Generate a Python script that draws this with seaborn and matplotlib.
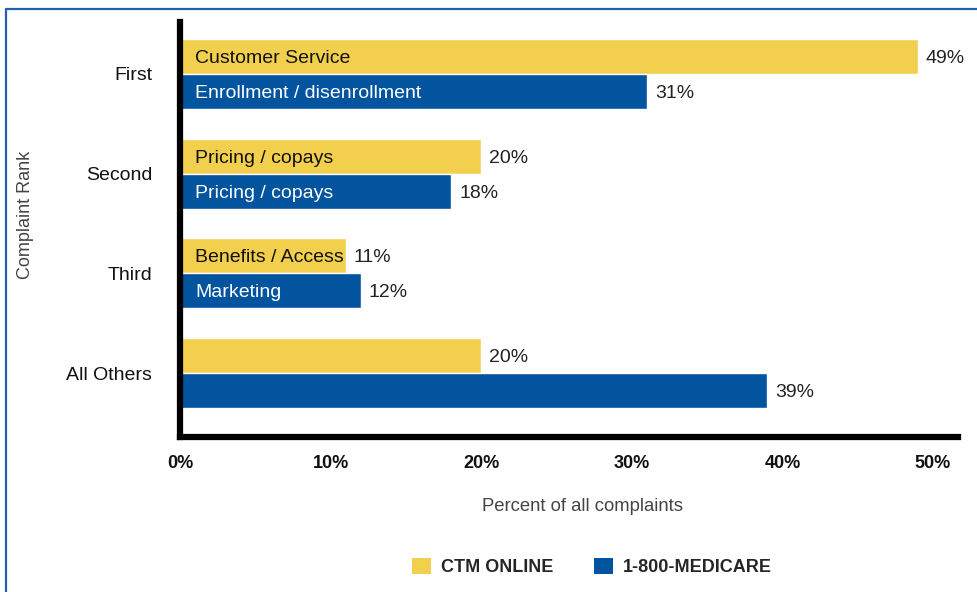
import matplotlib
matplotlib.use("Agg")
import matplotlib.pyplot as plt
from matplotlib.patches import Patch
from matplotlib.lines import Line2D
import pandas as pd
import seaborn as sns

# Data
ranks = ["First", "Second", "Third", "All Others"]
sources = ["CTM ONLINE", "1-800-MEDICARE"]
ctm_values = [49, 20, 11, 20]
medicare_values = [31, 18, 12, 39]
ctm_topics = ["Customer Service", "Pricing / copays", "Benefits / Access", ""]
medicare_topics = ["Enrollment / disenrollment", "Pricing / copays", "Marketing", ""]
x_ticks = [0, 10, 20, 30, 40, 50]
x_tick_labels = ["0%", "10%", "20%", "30%", "40%", "50%"]

YELLOW = "#F3CF4E"
BLUE = "#03549F"
FRAME_BLUE = "#2462AE"

df = pd.DataFrame({
    "rank": ranks * 2,
    "pct": ctm_values + medicare_values,
    "source": [sources[0]] * len(ranks) + [sources[1]] * len(ranks),
})

sns.set_theme(style="white")
plt.rcParams["font.family"] = ["Liberation Sans", "DejaVu Sans"]

W, H = 977, 592
fig = plt.figure(figsize=(W / 100, H / 100), dpi=100)
fig.patch.set_facecolor("white")

# axes placed in pixel terms
left_px, right_px, top_px, bottom_px = 180, 958, 22, 437
ax = fig.add_axes([left_px / W, 1 - bottom_px / H,
                   (right_px - left_px) / W, (bottom_px - top_px) / H])

sns.barplot(data=df, x="pct", y="rank", hue="source", order=ranks,
            hue_order=sources, orient="h", palette=[YELLOW, BLUE],
            width=0.7, gap=0, saturation=1, legend=False, ax=ax)

ax.set_xlim(0, 51.66)
ax.set_ylim(3.64, -0.52)

# topic names inside the bars, values at the bar ends
for container, topics, values, tcolor in [
        (ax.containers[0], ctm_topics, ctm_values, "#111111"),
        (ax.containers[1], medicare_topics, medicare_values, "white")]:
    for bar, topic, value in zip(container, topics, values):
        yc = bar.get_y() + bar.get_height() / 2
        if topic:
            ax.annotate(topic, xy=(0, yc), xytext=(15, -2),
                        textcoords="offset pixels", ha="left", va="center",
                        fontsize=14, color=tcolor)
        ax.annotate(f"{value}%", xy=(bar.get_width(), yc), xytext=(8, -2),
                    textcoords="offset pixels", ha="left", va="center",
                    fontsize=14, color="#222222")

# axes styling
for side in ["top", "right"]:
    ax.spines[side].set_visible(False)
for side in ["left", "bottom"]:
    ax.spines[side].set_color("black")
    ax.spines[side].set_linewidth(4.5)
    ax.spines[side].set_capstyle("projecting")

ax.set_xticks(x_ticks)
ax.set_xticklabels(x_tick_labels, fontsize=13, fontweight="bold", color="#111111")
ax.tick_params(axis="x", length=0, pad=13)
ax.tick_params(axis="y", length=0, pad=20, labelsize=14, labelcolor="#111111")

ax.set_xlabel("Percent of all complaints", fontsize=13.3, color="#444444")
ax.xaxis.set_label_coords((583 - left_px) / (right_px - left_px),
                          -(498 - bottom_px) / (bottom_px - top_px))
ax.set_ylabel("Complaint Rank", fontsize=13, color="#444444")
ax.yaxis.set_label_coords(-(left_px - 34) / (right_px - left_px),
                          (bottom_px - 215) / (bottom_px - top_px))

# legend
handles = [Patch(facecolor=YELLOW, edgecolor="none"),
           Patch(facecolor=BLUE, edgecolor="none")]
fig.legend(handles, sources, loc="center", bbox_to_anchor=(592 / W, 1 - 567 / H),
           ncol=2, frameon=False, prop={"size": 13, "weight": "bold"},
           handlelength=1.05, handleheight=1.05, handletextpad=0.55,
           columnspacing=2.3, borderpad=0)

# thin blue frame along top and left edges
fig.add_artist(Line2D([6 / W, 1], [1 - 9 / H, 1 - 9 / H], color=FRAME_BLUE,
                      linewidth=1.6, transform=fig.transFigure))
fig.add_artist(Line2D([6 / W, 6 / W], [0, 1 - 9 / H], color=FRAME_BLUE,
                      linewidth=1.6, transform=fig.transFigure))

fig.savefig("out.png", dpi=100, facecolor="white")
